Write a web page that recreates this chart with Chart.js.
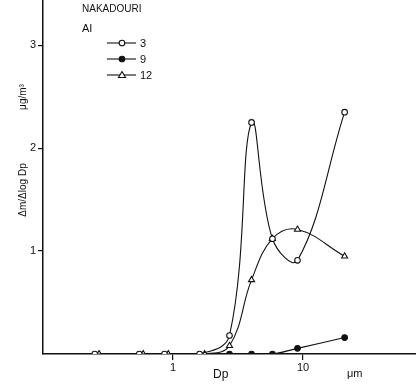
<!DOCTYPE html>
<html>
<head>
<meta charset="utf-8">
<script src="https://cdn.jsdelivr.net/npm/chart.js@4.4.1/dist/chart.umd.min.js"></script>
<style>
    html, body { margin: 0; padding: 0; background: #fff; }
    #wrap { width: 416px; height: 390px; }
</style>
</head>
<body>
<div id="wrap"><canvas id="sizeChart" width="416" height="390"></canvas></div>
<script>
// particle size (um) and dm/dlogDp (ug/m3)
const seriesNames = ['3', '9', '12'];
const dp3 = [0.25, 0.55, 0.86, 1.6, 2.72, 4.02, 5.82, 9.07, 20.9];
const val3 = [0, 0, 0, 0, 0.18, 2.25, 1.12, 0.91, 2.35];
const dp9 = [2.72, 4.02, 5.82, 9.07, 20.9];
const val9 = [0, 0, 0, 0.055, 0.16];
const dp12 = [0.27, 0.59, 0.92, 1.75, 2.72, 4.02, 5.82, 9.07, 20.9];
const val12 = [0, 0, 0, 0, 0.08, 0.72, 1.12, 1.21, 0.95];
const xTicks = [1, 10];
const yTicks = [1, 2, 3];

const ink = '#111';
const fontName = '"Liberation Sans", Arial, sans-serif';

function toPoints(xs, ys) {
    return xs.map((x, i) => ({ x: x, y: ys[i] }));
}

function lineDataset(label, xs, ys, style, fillColor) {
    return {
        label: label,
        data: toPoints(xs, ys),
        borderColor: ink,
        borderWidth: 1.1,
        pointStyle: style,
        pointRadius: style === 'triangle' ? 3.5 : 2.8,
        pointBackgroundColor: fillColor,
        pointBorderColor: ink,
        pointBorderWidth: 1.1,
        tension: 0.4,
        fill: false
    };
}

// texts and key that sit around the plot
const extraText = {
    id: 'extraText',
    afterDraw(chart) {
        const ctx = chart.ctx;
        ctx.save();
        ctx.fillStyle = ink;
        ctx.strokeStyle = ink;
        ctx.textBaseline = 'alphabetic';

        ctx.font = '10px ' + fontName;
        ctx.fillText('NAKADOURI', 82, 12);
        ctx.font = '11px ' + fontName;
        ctx.fillText('AI', 82, 32);

        const rows = [43, 59, 75];
        chart.data.datasets.forEach((ds, i) => {
            const y = rows[i];
            ctx.lineWidth = 1.1;
            ctx.beginPath();
            ctx.moveTo(107, y);
            ctx.lineTo(136, y);
            ctx.stroke();
            ctx.fillStyle = ds.pointBackgroundColor;
            ctx.beginPath();
            if (ds.pointStyle === 'triangle') {
                ctx.moveTo(122, y - 3.5);
                ctx.lineTo(125.5, y + 2.5);
                ctx.lineTo(118.5, y + 2.5);
                ctx.closePath();
            } else {
                ctx.arc(122, y, 2.8, 0, Math.PI * 2);
            }
            ctx.fill();
            ctx.stroke();
            ctx.fillStyle = ink;
            ctx.font = '11px ' + fontName;
            ctx.fillText(ds.label, 140, y + 4);
        });

        ctx.font = '12px ' + fontName;
        ctx.fillText('Dp', 213, 378);
        ctx.font = '11px ' + fontName;
        ctx.fillText('\u03bcm', 347, 377);

        ctx.font = '10px ' + fontName;
        ctx.textAlign = 'center';
        ctx.translate(22, 190);
        ctx.rotate(-Math.PI / 2);
        ctx.fillText('\u0394m/\u0394log Dp', 0, 4);
        ctx.rotate(Math.PI / 2);
        ctx.translate(0, 97 - 190);
        ctx.rotate(-Math.PI / 2);
        ctx.fillText('\u03bcg/m\u00b3', 0, 4);
        ctx.restore();
    }
};

const chart = new Chart(document.getElementById('sizeChart').getContext('2d'), {
    type: 'line',
    data: {
        datasets: [
            lineDataset(seriesNames[0], dp3, val3, 'circle', '#fff'),
            lineDataset(seriesNames[1], dp9, val9, 'circle', ink),
            lineDataset(seriesNames[2], dp12, val12, 'triangle', '#fff')
        ]
    },
    options: {
        responsive: false,
        animation: false,
        layout: { padding: 0, autoPadding: false },
        plugins: {
            legend: { display: false },
            tooltip: { enabled: false }
        },
        scales: {
            x: {
                type: 'logarithmic',
                min: 0.1,
                max: 74,
                afterBuildTicks: (scale) => {
                    scale.ticks = xTicks.map(v => ({ value: v }));
                },
                afterFit: (scale) => {
                    scale.height = 36;
                    scale.paddingLeft = 0;
                    scale.paddingRight = 0;
                },
                ticks: {
                    callback: (v) => String(v),
                    color: ink,
                    font: { family: fontName, size: 11 },
                    padding: 1,
                    maxRotation: 0,
                    autoSkip: false
                },
                grid: { drawOnChartArea: false, drawTicks: true, tickLength: 6, color: ink, lineWidth: 1.2 },
                border: { display: true, color: ink, width: 1.5 }
            },
            y: {
                type: 'linear',
                min: 0,
                max: 3.44,
                afterBuildTicks: (scale) => {
                    scale.ticks = yTicks.map(v => ({ value: v }));
                },
                afterFit: (scale) => {
                    scale.width = 43;
                    scale.paddingTop = 0;
                    scale.paddingBottom = 0;
                },
                ticks: {
                    callback: (v) => String(v),
                    color: ink,
                    font: { family: fontName, size: 11 },
                    padding: 2
                },
                grid: { drawOnChartArea: false, drawTicks: true, tickLength: 5, color: ink, lineWidth: 1.2 },
                border: { display: true, color: ink, width: 1.5 }
            }
        }
    },
    plugins: [extraText]
});
</script>
</body>
</html>
